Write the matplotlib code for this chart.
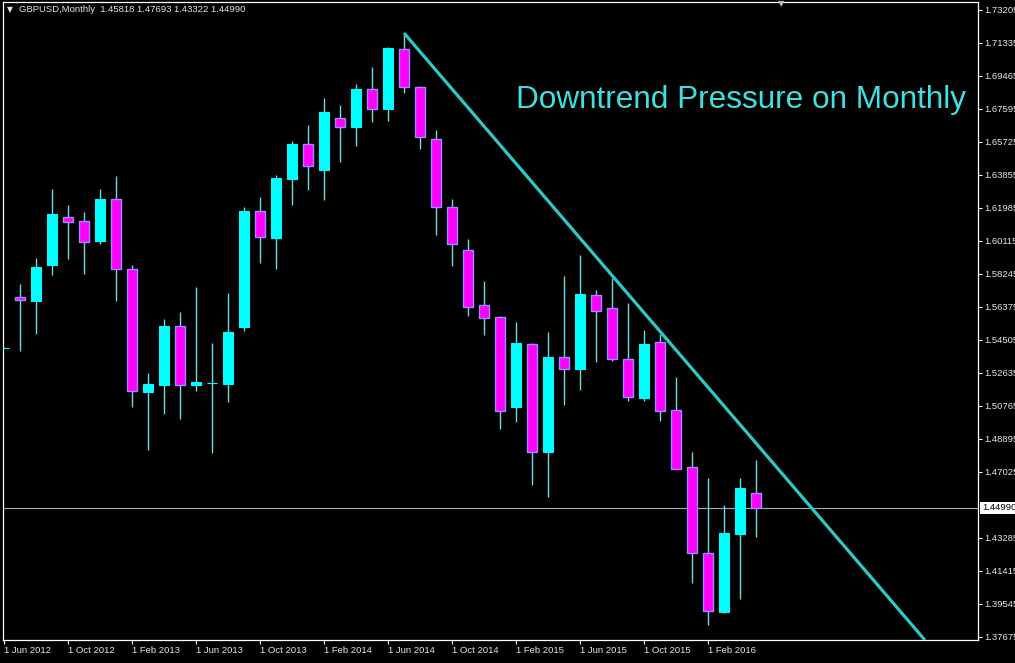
import matplotlib
matplotlib.use("Agg")
import matplotlib.pyplot as plt
import matplotlib.transforms as mtransforms
import numpy as np

# ---- data (GBPUSD monthly) ----
opens = [1.5405, 1.5694, 1.5673, 1.5875, 1.6146, 1.6123, 1.6011, 1.6248, 1.5855, 1.5158,
         1.5197, 1.5528, 1.5196, 1.5207, 1.5203, 1.5526, 1.6180, 1.6030, 1.6365, 1.6559,
         1.6414, 1.6707, 1.6659, 1.6871, 1.6761, 1.7101, 1.6882, 1.6588, 1.6206, 1.5959,
         1.5648, 1.5579, 1.5073, 1.5426, 1.4814, 1.5354, 1.5288, 1.5704, 1.5630, 1.5343,
         1.5122, 1.5437, 1.5052, 1.4729, 1.4242, 1.3911, 1.4353, 1.45818]
highs = [1.5405, 1.5768, 1.5915, 1.6306, 1.6217, 1.6176, 1.6306, 1.6380, 1.5874, 1.5263,
         1.5570, 1.5607, 1.5751, 1.5433, 1.5717, 1.6204, 1.6261, 1.6387, 1.6580, 1.6669,
         1.6822, 1.6782, 1.6901, 1.6997, 1.7109, 1.7192, 1.6890, 1.6641, 1.6250, 1.6023,
         1.5785, 1.5585, 1.5552, 1.5434, 1.5496, 1.5813, 1.5932, 1.5734, 1.5800, 1.5660,
         1.5509, 1.5483, 1.5241, 1.4814, 1.4669, 1.4515, 1.4669, 1.47693]
lows = [1.5405, 1.5388, 1.5485, 1.5819, 1.5909, 1.5824, 1.5994, 1.5671, 1.5073, 1.4827,
        1.5031, 1.5003, 1.5162, 1.4810, 1.5101, 1.5503, 1.5889, 1.5851, 1.6217, 1.6301,
        1.6244, 1.6461, 1.6552, 1.6688, 1.6693, 1.6852, 1.6531, 1.6046, 1.5872, 1.5588,
        1.5479, 1.4946, 1.4986, 1.4629, 1.4563, 1.5082, 1.5167, 1.5326, 1.5333, 1.5107,
        1.5107, 1.4991, 1.4718, 1.4075, 1.3834, 1.3902, 1.3980, 1.43322]
closes = [1.5405, 1.5677, 1.5864, 1.6165, 1.6121, 1.6004, 1.6248, 1.5855, 1.5160, 1.5199,
          1.5530, 1.5197, 1.5214, 1.5208, 1.5496, 1.6181, 1.6032, 1.6367, 1.6561, 1.6435,
          1.6741, 1.6659, 1.6873, 1.6760, 1.7103, 1.6882, 1.6601, 1.6206, 1.5993, 1.5638,
          1.5574, 1.5050, 1.5434, 1.4814, 1.5354, 1.5285, 1.5711, 1.5613, 1.5341, 1.5126,
          1.5428, 1.5050, 1.4718, 1.4242, 1.3915, 1.4357, 1.4612, 1.44990]

date_labels = ["1 Jun 2012", "1 Oct 2012", "1 Feb 2013", "1 Jun 2013", "1 Oct 2013",
               "1 Feb 2014", "1 Jun 2014", "1 Oct 2014", "1 Feb 2015", "1 Jun 2015",
               "1 Oct 2015", "1 Feb 2016"]
price_ticks = [1.73205, 1.71335, 1.69465, 1.67595, 1.65725, 1.63855, 1.61985, 1.60115,
               1.58245, 1.56375, 1.54505, 1.52635, 1.50765, 1.48895, 1.47025,
               1.43285, 1.41415, 1.39545, 1.37675]
trend_x = [25.0, 57.56]
trend_y = [1.7190, 1.3750]
last_price = 1.44990
header = "GBPUSD,Monthly  1.45818 1.47693 1.43322 1.44990"
title = "Downtrend Pressure on Monthly"

# ---- style ----
BG = "black"
UP = "#00ffff"
DOWN = "#ff00ff"
DOWN_EDGE = "#9a8cff"
WICK = "#6fdcdc"
TEXT = "#e6e6e6"

plt.rcParams["font.family"] = ["Liberation Sans", "DejaVu Sans"]

W, H = 1015, 663
fig = plt.figure(figsize=(W / 100, H / 100), dpi=100, facecolor=BG)
ax = fig.add_axes([3 / W, 23 / H, 975 / W, 638 / H], facecolor=BG)

o = np.array(opens); h = np.array(highs); l = np.array(lows); c = np.array(closes)
x = np.arange(len(o))
up = c >= o

ax.vlines(x, l, h, color=WICK, linewidth=1.0, zorder=2)
bw = 0.66
bottoms = np.minimum(o, c)
heights = np.abs(c - o)
ax.bar(x[up], heights[up], bottom=bottoms[up], width=bw, color=UP,
       edgecolor=UP, linewidth=0.8, zorder=3)
ax.bar(x[~up], heights[~up], bottom=bottoms[~up], width=bw, color=DOWN,
       edgecolor=DOWN_EDGE, linewidth=1.0, zorder=3)

# trend line
ax.plot(trend_x, trend_y, color="#2ec8c8", linewidth=2.3, zorder=4,
        solid_capstyle="butt")

# current price line
ax.axhline(last_price, color="#9fb0c0", linewidth=0.8, zorder=1)

ax.set_xlim(-0.0625, 60.875)
ax.set_ylim(1.37505, 1.73658)

ax.set_xticks(np.arange(len(date_labels)) * 4)
ax.set_xticklabels(date_labels, ha="left")
ax.set_yticks(price_ticks)
ax.set_yticklabels([f"{p:.5f}" for p in price_ticks])
ax.yaxis.tick_right()
ax.tick_params(axis="x", colors="white", labelcolor=TEXT, direction="out",
               length=3, width=0.8, pad=1.5, labelsize=6.8)
ax.tick_params(axis="y", colors="white", labelcolor=TEXT, direction="out",
               length=3, width=0.8, pad=1.5, labelsize=6.8)
for s in ax.spines.values():
    s.set_color("white")
    s.set_linewidth(0.9)

# current price box
trans = mtransforms.blended_transform_factory(ax.transAxes, ax.transData)
ax.text(1.0 + 4 / 975, last_price, f"{last_price:.5f}", transform=trans,
        ha="left", va="center", fontsize=6.8, color="black",
        bbox=dict(facecolor="white", edgecolor="none", pad=1.2), clip_on=False)

# title text
ax.text(0.9875, 0.847, title, transform=ax.transAxes, ha="right", va="center",
        fontsize=22.7, color="#3ee0e0", family=["Liberation Sans", "DejaVu Sans"])

# header
fig.text(7 / W, 1 - 10 / H, "\u25bc", color=TEXT, fontsize=5.5, ha="left",
         va="center", family=["DejaVu Sans"])
fig.text(19 / W, 1 - 10 / H, header, color=TEXT, fontsize=6.8, ha="left",
         va="center")
# shift marker
fig.text(781 / W, 1 - 4 / H, "\u25bc", color="#b8b8b8", fontsize=6, ha="center",
         va="center", family=["DejaVu Sans"])

fig.savefig("out.png", dpi=100, facecolor=BG)
